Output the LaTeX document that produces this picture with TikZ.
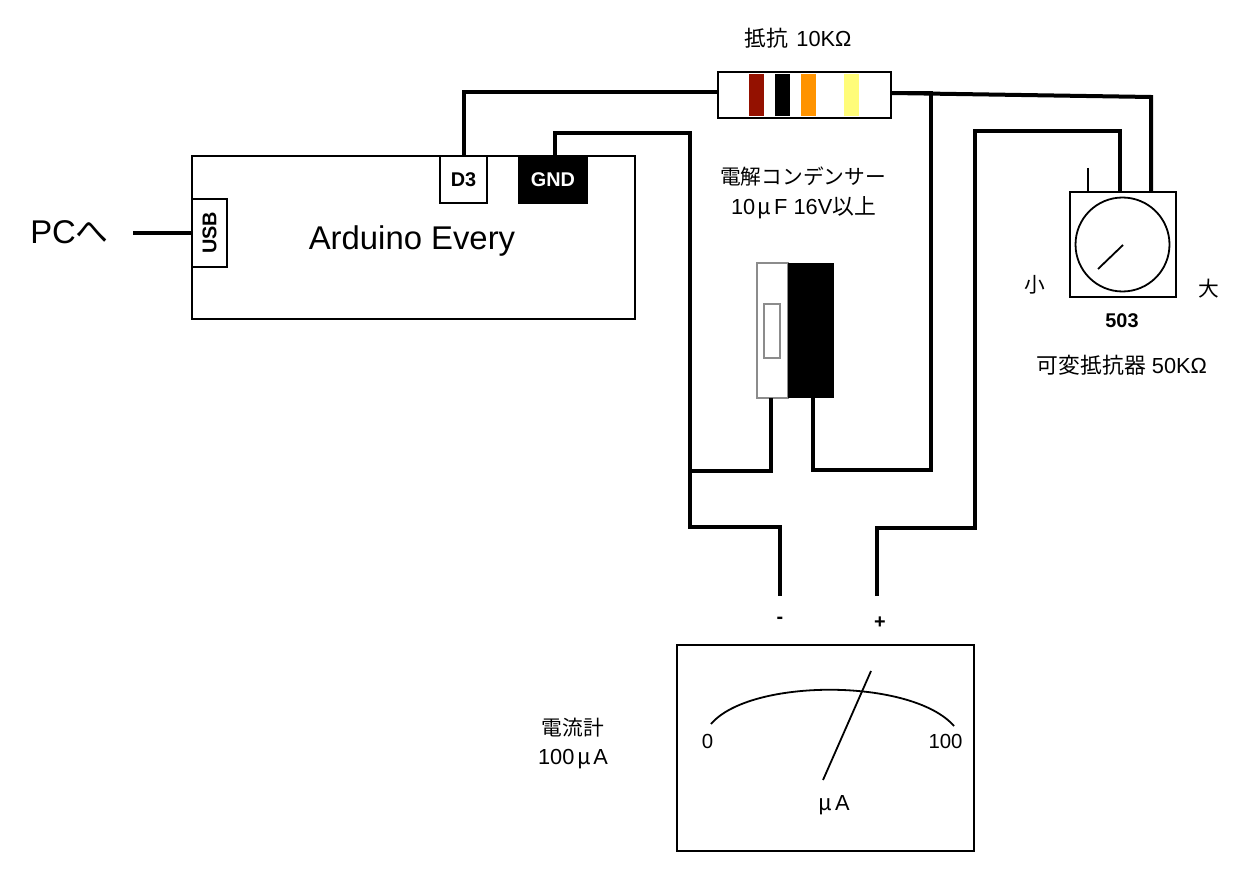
\documentclass[tikz,border=0pt]{standalone}
\usepackage{fontspec}
\setmainfont{Liberation Sans}
\newfontfamily\jp{Noto Sans CJK JP}
\newcommand{\mumark}{\kern0.12em{\jp μ}\kern0.12em}
\tikzstyle{box}=[draw, inner sep=0pt, outer sep=0pt, line width=0.036cm]
\tikzstyle{wire}=[line width=0.08cm, line join=miter]
\tikzstyle{thin wire}=[line width=0.036cm]
\tikzstyle{band}=[fill, inner sep=0pt, outer sep=0pt, minimum width=0.3cm, minimum height=0.86cm]
\tikzstyle{txt}=[inner sep=0pt, font=\fontsize{12.4pt}{15pt}\selectfont]
\tikzstyle{jptxt}=[inner sep=0pt, font=\fontsize{11.8pt}{15pt}\selectfont]
\tikzstyle{tag}=[inner sep=0pt, font=\fontsize{11.3pt}{13pt}\selectfont\bfseries]
\tikzstyle{capedge}=[draw=black!45, line width=0.036cm, inner sep=0pt, outer sep=0pt]

\begin{document}
\begin{tikzpicture}[x=0.02cm, y=-0.02cm]
    \useasboundingbox (0, 0) rectangle (1240, 888);

    % Arduino board
    \node[box, minimum width=8.86cm, minimum height=3.26cm] (board) at (413.5, 237.5) {};
    \node[box, fill=white, minimum width=0.94cm, minimum height=0.94cm, tag] (d3) at (463.5, 179.5) {D3};
    \node[box, fill=black, text=white, minimum width=1.36cm, minimum height=0.94cm, tag] (gnd) at (553, 179.5) {GND};
    \node[box, fill=white, minimum width=0.7cm, minimum height=1.36cm, tag] (usb) at (209.5, 233) {\rotatebox{90}{USB}};
    \node[inner sep=0pt, font=\fontsize{18.7pt}{22pt}\selectfont] (every) at (412, 241) {Arduino Every};
    \node[inner sep=0pt, font=\fontsize{18.7pt}{22pt}\selectfont] (pc) at (69.5, 232) {PC{\jp へ}};
    \coordinate (pcend) at (133, 233);
    \draw[wire] (pcend) -- (usb.west);

    % resistor
    \node[box, minimum width=3.46cm, minimum height=0.92cm] (res) at (804.5, 95) {};
    \node[band, fill={rgb,255:red,148;green,17;blue,0}] (band1) at (756.5, 95) {};
    \node[band, fill=black] (band2) at (782.5, 95) {};
    \node[band, fill={rgb,255:red,255;green,147;blue,0}] (band3) at (808.5, 95) {};
    \node[band, fill={rgb,255:red,255;green,252;blue,121}] (band4) at (851.5, 95) {};
    \draw[line width=0.036cm] (res.north west) rectangle (res.south east);
    \node[txt] (reslabel) at (798, 38) {{\jp 抵抗}\kern0.1em{} 10KΩ};

    % capacitor
    \node[capedge, fill=white, minimum width=0.62cm, minimum height=2.7cm] (capl) at (772.5, 330.5) {};
    \node[fill=black, inner sep=0pt, outer sep=0pt, minimum width=0.92cm, minimum height=2.7cm] (capr) at (811, 330.5) {};
    \node[capedge, minimum width=0.32cm, minimum height=1.08cm] (capmark) at (772, 331) {};
    \node[jptxt] (caplabela) at (803, 177) {\jp 電解コンデンサー};
    \node[txt] (caplabelb) at (803.5, 208) {10\mumark F 16V{\jp 以上}};

    % variable resistor
    \node[box, minimum width=2.12cm, minimum height=2.1cm] (pot) at (1123, 244.5) {};
    \node[draw, circle, line width=0.036cm, inner sep=0pt, outer sep=0pt, minimum size=1.88cm] (dial) at (1122.5, 244.5) {};
    \coordinate (knoba) at (1098, 269);
    \coordinate (knobb) at (1123, 245);
    \draw[thin wire] (knoba) -- (knobb);
    \coordinate (pina) at (1088, 168);
    \coordinate (pinapot) at (1088, 192);
    \draw[thin wire] (pina) -- (pinapot);
    \node[jptxt] (small) at (1035, 285) {\jp 小};
    \node[jptxt] (large) at (1209, 289) {\jp 大};
    \node[tag] (code) at (1122, 321) {503};
    \node[txt] (potlabel) at (1122, 365) {{\jp 可変抵抗器} 50KΩ};

    % meter
    \node[box, minimum width=5.94cm, minimum height=4.12cm] (meter) at (825.5, 748) {};
    \coordinate (arca) at (711, 724);
    \coordinate (arcb) at (954, 726);
    \draw[thin wire] (arca) .. controls (750, 678) and (912, 678) .. (arcb);
    \coordinate (needlea) at (823, 780);
    \coordinate (needleb) at (871, 671);
    \draw[thin wire] (needlea) -- (needleb);
    \node[inner sep=0pt, font=\fontsize{11.6pt}{14pt}\selectfont] (zero) at (707.5, 741) {0};
    \node[inner sep=0pt, font=\fontsize{11.6pt}{14pt}\selectfont] (hundred) at (945.5, 741) {100};
    \node[txt] (unit) at (833, 805) {\mumark A};
    \node[tag] (minus) at (780, 620) {-};
    \node[tag] (plus) at (880, 623) {+};
    \node[jptxt] (meterlabela) at (573, 728) {\jp 電流計};
    \node[txt] (meterlabelb) at (573, 759) {100\mumark A};

    % wiring
    \coordinate (resin) at (718, 92);
    \coordinate (resout) at (891, 93);
    \coordinate (potin) at (1120, 192);
    \coordinate (potout) at (1151, 193);
    \coordinate (capin) at (771, 398);
    \coordinate (capout) at (813, 398);
    \coordinate (tminus) at (780, 596);
    \coordinate (tplus) at (877, 596);
    \coordinate (junction) at (690, 471);
    \coordinate (gndpin) at (555, 156);

    \draw[wire] (d3.north) |- (resin);
    \draw[wire] (gndpin) |- (690, 133) |- (780, 527) -- (tminus);
    \draw[wire] (junction) -| (capin);
    \draw[wire] (capout) |- (931, 470) |- (resout);
    \draw[wire] (resout) -- (1151, 97) -- (potout);
    \draw[wire] (tplus) |- (975, 528) |- (1120, 131) -- (potin);
\end{tikzpicture}
\end{document}
